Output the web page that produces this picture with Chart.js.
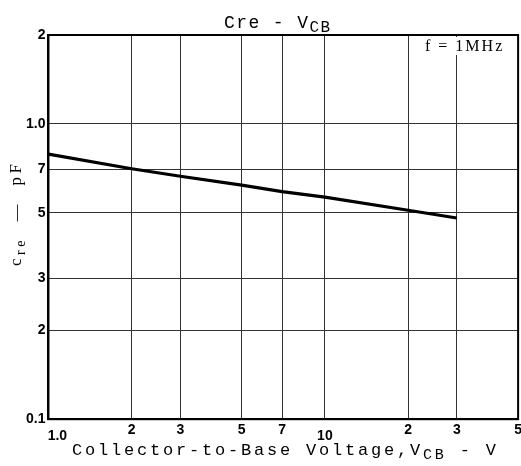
<!DOCTYPE html>
<html>
<head>
<meta charset="utf-8">
<script src="https://cdn.jsdelivr.net/npm/chart.js@4.4.1/dist/chart.umd.min.js"></script>
<style>
  html, body { margin: 0; padding: 0; background: #fff; overflow: hidden; }
  #wrap { position: relative; width: 524px; height: 466px; }
</style>
</head>
<body>
<div id="wrap"><canvas id="chart" width="524" height="466"></canvas></div>
<script>
// Cre vs VCB (f = 1MHz)
const vcb = [1, 2, 3, 5, 7, 10, 20, 30];
const cre = [0.79, 0.705, 0.665, 0.62, 0.59, 0.565, 0.51, 0.48];

const xTicks = [1, 2, 3, 5, 7, 10, 20, 30, 50];
const xTickLabels = ['1.0', '2', '3', '5', '7', '10', '2', '3', '5'];
const yTicks = [0.1, 0.2, 0.3, 0.5, 0.7, 1, 2];
const yTickLabels = ['0.1', '2', '3', '5', '7', '1.0', '2'];

const titleText = ['Cre - V', 'CB'];
const xTitle = ['Collector-to-Base Voltage,V', 'CB', ' - V'];
const yTitle = ['c', 're', '  \u2014  pF'];
const noteText = 'f = 1MHz';

const mono = '"Liberation Mono", monospace';
const serif = '"Liberation Serif", serif';

// draws a run of [normal, subscript, normal] text pieces
function drawRun(ctx, parts, x, y, size, subSize, family, spacing) {
    ctx.letterSpacing = spacing + 'px';
    parts.forEach((p, i) => {
        const sub = i % 2 === 1;
        ctx.font = (sub ? subSize : size) + 'px ' + family;
        ctx.fillText(p, x, sub ? y + 4 : y);
        x += ctx.measureText(p).width;
    });
    ctx.letterSpacing = '0px';
}

const decor = {
    id: 'decor',
    afterDraw(chart) {
        const { ctx, chartArea: a } = chart;
        ctx.save();
        ctx.strokeStyle = '#000';
        ctx.lineWidth = 2;
        ctx.strokeRect(a.left, a.top, a.right - a.left, a.bottom - a.top);

        ctx.fillStyle = '#000';
        ctx.textBaseline = 'alphabetic';
        ctx.textAlign = 'left';
        drawRun(ctx, titleText, 224, 28, 18, 16, mono, 1.4);
        drawRun(ctx, xTitle, 72, 455, 17, 15, mono, 2.8);

        // note box
        ctx.font = '16px ' + serif;
        ctx.letterSpacing = '2px';
        const w = ctx.measureText(noteText).width;
        ctx.fillStyle = '#fff';
        ctx.fillRect(422, 37, w + 6, 18);
        ctx.fillStyle = '#000';
        ctx.fillText(noteText, 425, 51);
        ctx.letterSpacing = '0px';

        // rotated y title
        ctx.translate(21, 266);
        ctx.rotate(-Math.PI / 2);
        drawRun(ctx, yTitle, 0, 0, 17, 14, serif, 3.5);
        ctx.restore();
    }
};

new Chart(document.getElementById('chart'), {
    type: 'line',
    data: {
        datasets: [{
            data: vcb.map((v, i) => ({ x: v, y: cre[i] })),
            borderColor: '#000',
            borderWidth: 3.2,
            pointRadius: 0,
            tension: 0,
            fill: false
        }]
    },
    options: {
        responsive: false,
        animation: false,
        layout: { padding: { left: 23, right: 0, top: 35, bottom: 12 } },
        plugins: { legend: { display: false }, tooltip: { enabled: false } },
        scales: {
            x: {
                type: 'logarithmic',
                min: 1,
                max: 50,
                afterBuildTicks: s => { s.ticks = xTicks.map(v => ({ value: v })); },
                ticks: {
                    autoSkip: false,
                    maxRotation: 0,
                    padding: 2,
                    color: '#000',
                    font: c => ({
                        family: '"Liberation Sans", Arial, sans-serif',
                        size: 14,
                        weight: 'bold',
                        lineHeight: (c.index === 0 || c.index === 5) ? 2.2 : 1.3
                    }),
                    callback: (v, i) => (i === 0 ? '\u2003 ' : '') + xTickLabels[i]
                },
                grid: { color: '#333', lineWidth: 1, drawTicks: false },
                border: { color: '#000', width: 2 }
            },
            y: {
                type: 'logarithmic',
                min: 0.1,
                max: 2,
                afterBuildTicks: s => { s.ticks = yTicks.map(v => ({ value: v })); },
                ticks: {
                    padding: 3,
                    color: '#000',
                    font: { family: '"Liberation Sans", Arial, sans-serif', size: 14, weight: 'bold' },
                    callback: (v, i) => yTickLabels[i]
                },
                grid: { color: '#333', lineWidth: 1, drawTicks: false },
                border: { color: '#000', width: 2 }
            }
        }
    },
    plugins: [decor]
});
</script>
</body>
</html>
